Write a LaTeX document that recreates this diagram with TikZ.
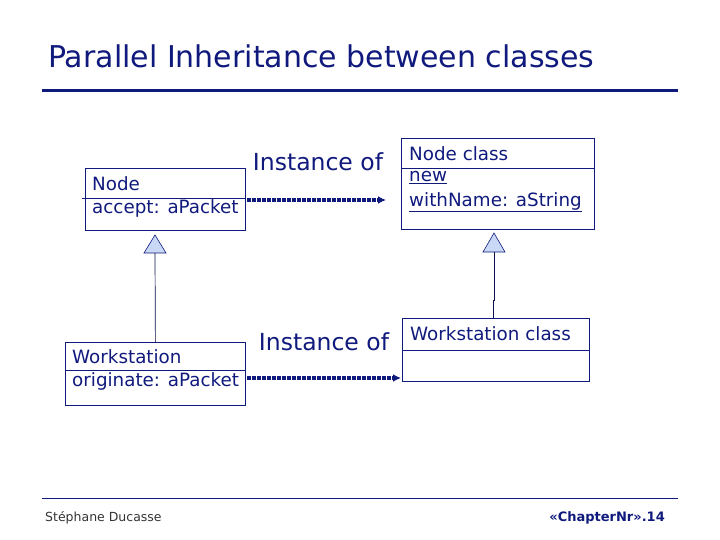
\documentclass[tikz,border=0pt]{standalone}
\usepackage{fontspec}
\setmainfont{DejaVu Sans}
\usetikzlibrary{arrows.meta}
\definecolor{navy}{RGB}{16,26,125}
\definecolor{trifill}{RGB}{200,216,245}
\tikzset{
  classbox/.style={draw=navy, line width=0.8pt, anchor=north west, inner sep=0pt},
  boxtext/.style={anchor=west, text=navy, font=\fontsize{18.3}{22}\selectfont, inner sep=0pt},
  instlabel/.style={text=navy, font=\fontsize{23.5}{28}\selectfont, inner sep=0pt},
  instarrow/.style={draw=navy, line width=3.2pt, dash pattern=on 3.5pt off 1.5pt, -{Latex[length=8pt,width=8pt]}},
  inhline/.style={draw=navy!60!black, line width=0.7pt},
  inhtri/.style={draw=navy, fill=trifill, line width=0.6pt}
}
\begin{document}
\begin{tikzpicture}[x=1pt,y=-1pt]
\useasboundingbox (0,0) rectangle (720,540);
% title
\node[anchor=base west, text=navy, font=\fontsize{30}{36}\selectfont, inner sep=0pt] (title) at (48,68) {Parallel Inheritance between classes};
\draw[navy, line width=3pt] (42,91) -- (678,91);

% Node box
\node[classbox, minimum width=160pt, minimum height=62pt] (nodebox) at (85,168) {};
\draw[navy, line width=0.8pt] (82,198) -- (246,198);
\node[boxtext] (nodename) at (92,184) {Node};
\node[boxtext] (nodemeth) at (92,208) {accept: aPacket};

% Workstation box
\node[classbox, minimum width=180pt, minimum height=63pt] (wsbox) at (65,342) {};
\draw[navy, line width=0.8pt] (65,370) -- (245,370);
\node[boxtext] (wsname) at (72,357) {Workstation};
\node[boxtext] (wsmeth) at (72,381) {originate: aPacket};

% Node class box
\node[classbox, minimum width=193pt, minimum height=91pt] (ncbox) at (401,138) {};
\draw[navy, line width=0.8pt] (401,168) -- (594,168);
\node[boxtext] (ncname) at (409,154) {Node class};
\node[boxtext] (ncnew) at (409,178) {\underline{new}};
\node[boxtext] (ncwith) at (409,202) {\underline{withName: aString}};

% Workstation class box
\node[classbox, minimum width=187pt, minimum height=63pt] (wcbox) at (402,318) {};
\draw[navy, line width=0.8pt] (402,350) -- (589,350);
\node[boxtext] (wcname) at (410,334) {Workstation class};

% inheritance left
\coordinate (t1apex) at (155,235);
\coordinate (t1base) at (155,253);
\draw[inhtri] (t1apex) -- (166,253) -- (144,253) -- cycle;
\draw[inhline] (t1base) -- (wsbox.north);

% inheritance right
\coordinate (t2apex) at (494,233);
\coordinate (t2base) at (494,252);
\draw[inhtri] (t2apex) -- (505,252) -- (483,252) -- cycle;
\draw[inhline] (t2base) -- (494,300) -- (493,300) -- (493,318);

% instance-of arrows
\node[instlabel, anchor=center] (inst1) at (318,162) {Instance of};
\node[instlabel, anchor=center] (inst2) at (324,342) {Instance of};
\coordinate (a1s) at (247,200);
\coordinate (a1e) at (386,200);
\draw[instarrow] (a1s) -- (a1e);
\coordinate (a2s) at (247,378);
\coordinate (a2e) at (401,378);
\draw[instarrow] (a2s) -- (a2e);

% footer
\draw[navy, line width=0.9pt] (42,498) -- (678,498);
\node[anchor=base west, text=black!80, font=\fontsize{12.5}{15}\selectfont, inner sep=0pt] (author) at (45,521) {Stéphane Ducasse};
\node[anchor=base east, text=navy, font=\bfseries\fontsize{13}{15}\selectfont, inner sep=0pt] (pagenum) at (665,521) {«ChapterNr».14};
\end{tikzpicture}
\end{document}
